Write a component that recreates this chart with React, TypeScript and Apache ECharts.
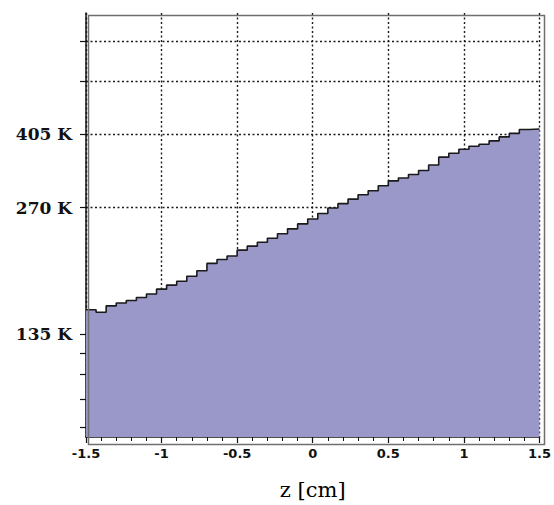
import React, { useEffect, useRef } from "react";
import * as echarts from "echarts";

// Axis range (z in cm)
const Z_MIN = -1.5;
const Z_MAX = 1.5;
const X_TICK_STEP = 0.5;

// Temperature per z-bin (K), 45 equal bins from -1.5 to 1.5 cm
const TEMPERATURE_K = [
  154.1, 152.0, 157.4, 160.0, 162.2, 164.9, 168.0, 172.6, 176.5, 180.3,
  185.3, 190.9, 198.8, 203.2, 207.1, 213.9, 218.6, 223.4, 228.3, 234.0,
  240.4, 247.0, 253.8, 261.5, 269.5, 276.1, 283.0, 290.0, 296.4, 304.5,
  312.9, 318.0, 324.1, 331.2, 341.3, 356.5, 364.3, 372.3, 378.4, 382.5,
  389.9, 398.4, 406.1, 415.0, 416.2,
];

// Log temperature axis
const Y_MIN = 76.6;
const Y_MAX = 787;
const Y_TICK_VALUES = [81, 94.5, 108, 121.5, 135, 270, 405, 540, 675];
const Y_LABEL_VALUES = [135, 270, 405];

export default function App() {
  const ref = useRef<HTMLDivElement>(null);

  useEffect(() => {
    if (!ref.current) return;
    const chart = echarts.init(ref.current, undefined, { renderer: "svg" });
    const binWidth = (Z_MAX - Z_MIN) / TEMPERATURE_K.length;
    const data: [number, number][] = TEMPERATURE_K.map((v, i) => [Z_MIN + i * binWidth, v]);
    data.push([Z_MAX, TEMPERATURE_K[TEMPERATURE_K.length - 1]]);

    const gridLeft = 86;
    const gridRight = 12;
    const gridTop = 13;
    const gridBottom = 63;
    const W = 554;
    const H = 505;
    const gridLine = { show: true, lineStyle: { type: [2, 2.5], color: "#1a1a1a", width: 1.4 } };

    chart.setOption({
      animation: false,
      backgroundColor: "#ffffff",
      grid: { left: gridLeft, right: gridRight, top: gridTop, bottom: gridBottom },
      xAxis: {
        type: "value",
        min: Z_MIN,
        max: Z_MAX,
        interval: X_TICK_STEP,
        name: "z [cm]",
        nameLocation: "middle",
        nameGap: 42,
        nameTextStyle: { fontFamily: "DejaVu Serif", fontSize: 21, color: "#000" },
        axisLine: { show: true, onZero: false, lineStyle: { color: "#111", width: 1.5 } },
        axisTick: { show: true, inside: false, length: 6, lineStyle: { color: "#111", width: 1.2 } },
        minorTick: { show: true, splitNumber: 5, length: 4, lineStyle: { color: "#111", width: 1 } },
        axisLabel: {
          margin: 10,
          fontFamily: "DejaVu Sans",
          fontWeight: "bold",
          fontSize: 13,
          color: "#111",
          formatter: (v: number) => String(v),
        },
        splitLine: gridLine,
      },
      yAxis: {
        type: "log",
        logBase: 10,
        min: Y_MIN,
        max: Y_MAX,
        axisLine: { show: true, onZero: false, lineStyle: { color: "#111", width: 1.5 } },
        axisTick: {
          show: true,
          inside: false,
          length: 6,
          customValues: Y_TICK_VALUES,
          lineStyle: { color: "#111", width: 1.2 },
        },
        axisLabel: {
          customValues: Y_LABEL_VALUES,
          margin: 14,
          fontFamily: "DejaVu Serif",
          fontWeight: "bold",
          fontSize: 17,
          color: "#111",
          formatter: (v: number) => `${Math.round(v)} K`,
        },
        splitLine: gridLine,
      },
      graphic: [
        {
          type: "rect",
          left: gridLeft,
          top: gridTop,
          z: 100,
          silent: true,
          shape: { width: W - gridLeft - gridRight, height: H - gridTop - gridBottom },
          style: { fill: "none", stroke: "#6f6f6f", lineWidth: 1.5 },
        },
      ],
      series: [
        {
          type: "line",
          step: "end",
          symbol: "none",
          data,
          lineStyle: { color: "#1a1a1a", width: 1.6 },
          areaStyle: { color: "#9a98c8", opacity: 1, origin: "start" },
        },
      ],
    });

    return () => chart.dispose();
  }, []);

  return (
    <div
      ref={ref}
      style={{ position: "fixed", left: 0, top: 0, width: 554, height: 505 }}
    />
  );
}
